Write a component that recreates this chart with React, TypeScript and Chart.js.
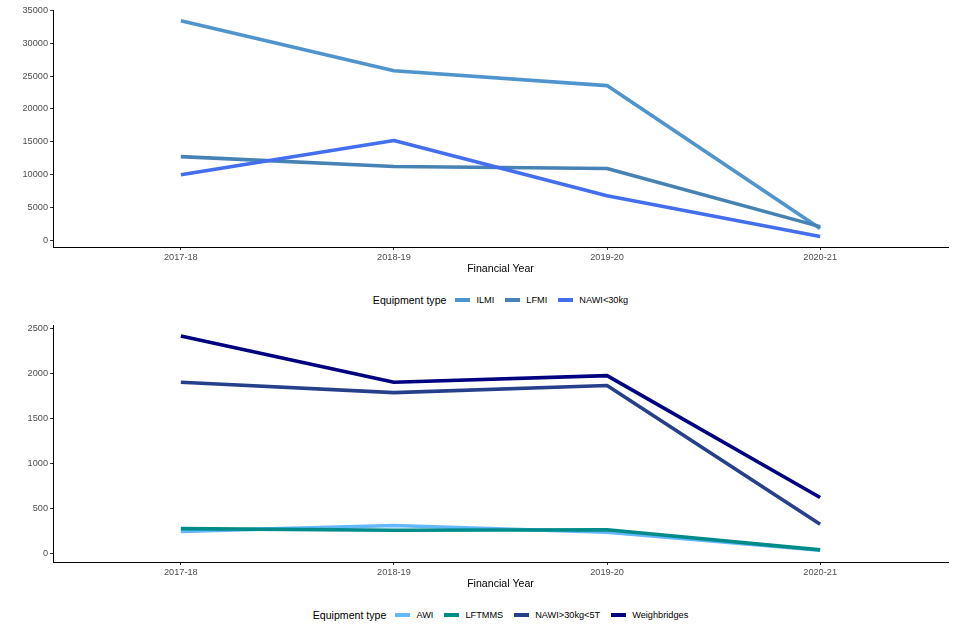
import React, { useEffect, useRef } from "react";
import { Chart, registerables } from "chart.js";

Chart.register(...registerables);

const categories = ["2017-18", "2018-19", "2019-20", "2020-21"];

const topSeriesNames = ["ILMI", "LFMI", "NAWI<30kg"];
const topColors = ["#4f94cd", "#4682b4", "#436eee"];
const ilmi = [33400, 25800, 23550, 1800];
const lfmi = [12750, 11250, 10950, 2100];
const nawiUnder30 = [10000, 15200, 6800, 600];
const topYTicks = [0, 5000, 10000, 15000, 20000, 25000, 30000, 35000];

const bottomSeriesNames = ["AWI", "LFTMMS", "NAWI>30kg<5T", "Weighbridges"];
const bottomColors = ["#63b8ff", "#008b8b", "#27408b", "#000080"];
const awi = [250, 315, 240, 40];
const lftmms = [280, 262, 268, 45];
const nawi30to5t = [1905, 1790, 1868, 330];
const weighbridges = [2418, 1905, 1978, 626];
const bottomYTicks = [0, 500, 1000, 1500, 2000, 2500];

const FONT = "'Liberation Sans', Arial, sans-serif";
const W = 960;
const H = 285;
const TICK_SIZE = 9.2;
const TITLE_SIZE = 10.6;

type PanelProps = {
  names: string[];
  colors: string[];
  series: number[][];
  yTicks: number[];
  yMin: number;
  yMax: number;
  top: number;
};

function Panel({ names, colors, series, yTicks, yMin, yMax, top }: PanelProps) {
  const ref = useRef<HTMLCanvasElement | null>(null);
  useEffect(() => {
    if (!ref.current) return;
    const n = series.length;
    const chart = new Chart(ref.current, {
      type: "line",
      data: {
        datasets: series.map((vals, i) => ({
          label: names[i],
          data: vals.map((v, j) => ({ x: j, y: v })),
          borderColor: colors[i],
          backgroundColor: colors[i],
          borderWidth: 3.6,
          borderCapStyle: "butt" as const,
          borderJoinStyle: "round" as const,
          pointRadius: 0,
          tension: 0,
          fill: false,
          order: n - i,
        })),
      },
      options: {
        responsive: false,
        animation: false,
        layout: { padding: { top: 10, right: 12, left: 0, bottom: 0 } },
        plugins: { legend: { display: false }, tooltip: { enabled: false } },
        scales: {
          x: {
            type: "linear",
            min: -0.6,
            max: categories.length - 1 + 0.6,
            afterBuildTicks: (scale: any) => {
              scale.ticks = categories.map((_, i) => ({ value: i }));
            },
            afterFit: (scale: any) => {
              scale.height = H - 10 - 237;
            },
            ticks: {
              autoSkip: false,
              maxRotation: 0,
              padding: 2,
              color: "#4d4d4d",
              font: { family: FONT, size: TICK_SIZE },
              callback: (v: any) => categories[Number(v)] ?? "",
            },
            grid: { drawOnChartArea: false, drawTicks: true, tickLength: 3, color: "#333333" },
            border: { display: true, color: "#000000", width: 1 },
            title: {
              display: true,
              text: "Financial Year",
              color: "#000000",
              font: { family: FONT, size: TITLE_SIZE },
              padding: { top: 2, bottom: 10 },
            },
          },
          y: {
            type: "linear",
            min: yMin,
            max: yMax,
            afterBuildTicks: (scale: any) => {
              scale.ticks = yTicks.map((v) => ({ value: v }));
            },
            afterFit: (scale: any) => {
              scale.width = 53;
            },
            ticks: {
              padding: 2,
              color: "#4d4d4d",
              font: { family: FONT, size: TICK_SIZE },
              callback: (v: any) => String(v),
            },
            grid: { drawOnChartArea: false, drawTicks: true, tickLength: 3, color: "#333333" },
            border: { display: true, color: "#000000", width: 1 },
          },
        },
      },
    });
    return () => chart.destroy();
  }, []);
  return (
    <canvas
      ref={ref}
      width={W}
      height={H}
      style={{ position: "absolute", left: 0, top, width: W, height: H }}
    />
  );
}

function Legend({ names, colors, top }: { names: string[]; colors: string[]; top: number }) {
  return (
    <div
      style={{
        position: "absolute",
        left: 53,
        width: 895,
        top: top - 10,
        height: 20,
        display: "flex",
        alignItems: "center",
        justifyContent: "center",
        fontFamily: FONT,
        color: "#000",
      }}
    >
      <span style={{ fontSize: TITLE_SIZE, marginRight: 9 }}>Equipment type</span>
      {names.map((nm, i) => (
        <span key={nm} style={{ display: "flex", alignItems: "center", marginRight: i < names.length - 1 ? 11 : 0 }}>
          <span style={{ display: "inline-block", width: 15, height: 4, background: colors[i], marginRight: 6 }} />
          <span style={{ fontSize: TICK_SIZE }}>{nm}</span>
        </span>
      ))}
    </div>
  );
}

export default function App() {
  return (
    <div style={{ position: "absolute", left: 0, top: 0, width: W, height: 640, background: "#fff" }}>
      <Panel
        names={topSeriesNames}
        colors={topColors}
        series={[ilmi, lfmi, nawiUnder30]}
        yTicks={topYTicks}
        yMin={-1000}
        yMax={35050}
        top={0}
      />
      <Legend names={topSeriesNames} colors={topColors} top={300} />
      <Panel
        names={bottomSeriesNames}
        colors={bottomColors}
        series={[awi, lftmms, nawi30to5t, weighbridges]}
        yTicks={bottomYTicks}
        yMin={-90}
        yMax={2540}
        top={315}
      />
      <Legend names={bottomSeriesNames} colors={bottomColors} top={615} />
    </div>
  );
}
